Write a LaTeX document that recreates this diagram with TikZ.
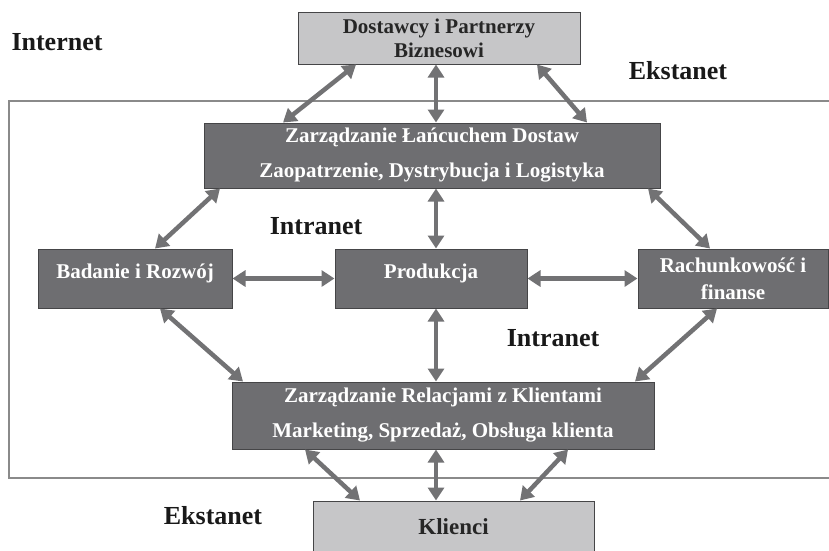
\documentclass[tikz,border=0pt]{standalone}
\usepackage{fontspec}
\setmainfont{Liberation Serif}
\usetikzlibrary{arrows.meta}
\definecolor{darkbox}{HTML}{6E6E71}
\definecolor{darkedge}{HTML}{454547}
\definecolor{lightbox}{HTML}{C6C6C8}
\definecolor{arrowgray}{HTML}{727274}
\definecolor{framegray}{HTML}{8A8A8A}
\tikzset{
  dbox/.style={draw=darkedge, line width=1pt, fill=darkbox, text=white, inner sep=0pt, align=center, font=\bfseries\fontsize{21}{27}\selectfont},
  lbox/.style={draw=darkedge, line width=1pt, fill=lightbox, text=black!85, inner sep=0pt, align=center, font=\bfseries\fontsize{21}{24}\selectfont},
  zone/.style={font=\bfseries\fontsize{26}{30}\selectfont, text=black!90, inner sep=0pt},
  biarrow/.style={draw=arrowgray, line width=4.5pt, {Triangle[length=13pt,width=16pt]}-{Triangle[length=13pt,width=16pt]}, shorten <=0pt, shorten >=0pt},
  framel/.style={draw=framegray, line width=1.4pt}
}
\begin{document}
\begin{tikzpicture}[x=1pt,y=-1pt]
\useasboundingbox (0,0) rectangle (829,550);
% frame
\draw[framel] (829,101) -- (9,101) -- (9,478) -- (829,478);
% boxes
\node[lbox, minimum width=282pt, minimum height=52pt] (dost) at (439,38) {Dostawcy i Partnerzy\\Biznesowi};
\node[dbox, minimum width=456pt, minimum height=65pt, font=\bfseries\fontsize{21}{35}\selectfont] (scm) at (432,155.5) {Zarządzanie Łańcuchem Dostaw\\Zaopatrzenie, Dystrybucja i Logistyka};
\node[dbox, minimum width=194pt, minimum height=59pt, text depth=14pt] (bad) at (135,278.5) {Badanie i Rozwój};
\node[dbox, minimum width=192pt, minimum height=59pt, text depth=14pt] (prod) at (431,278.5) {Produkcja};
\node[dbox, minimum width=190pt, minimum height=59pt] (rach) at (733,278.5) {Rachunkowość i\\finanse};
\node[dbox, minimum width=422pt, minimum height=67pt, font=\bfseries\fontsize{21}{35}\selectfont] (crm) at (443,415.5) {Zarządzanie Relacjami z Klientami\\Marketing, Sprzedaż, Obsługa klienta};
\node[lbox, minimum width=281pt, minimum height=52pt, font=\bfseries\fontsize{23}{26}\selectfont] (kli) at (453.5,527) {Klienci};
% zone labels
\node[zone] (inet) at (57,42) {Internet};
\node[zone] (ext1) at (678,71) {Ekstanet};
\node[zone] (intra1) at (316,226) {Intranet};
\node[zone] (intra2) at (553,338) {Intranet};
\node[zone] (ext2) at (213,516) {Ekstanet};
% arrows
\draw[biarrow] ([xshift=-83pt]dost.south) -- ([xshift=-149pt]scm.north);
\draw[biarrow] ([xshift=-3pt]dost.south) -- ([xshift=4pt]scm.north);
\draw[biarrow] ([xshift=98pt]dost.south) -- ([xshift=155pt]scm.north);
\draw[biarrow] ([xshift=-212pt]scm.south) -- ([xshift=20pt]bad.north);
\draw[biarrow] ([xshift=4pt]scm.south) -- ([xshift=5pt]prod.north);
\draw[biarrow] ([xshift=216pt]scm.south) -- ([xshift=-23pt]rach.north);
\draw[biarrow] (bad.east) -- (prod.west);
\draw[biarrow] (prod.east) -- (rach.west);
\draw[biarrow] ([xshift=25pt]bad.south) -- ([xshift=-200pt]crm.north);
\draw[biarrow] ([xshift=5pt]prod.south) -- ([xshift=-7pt]crm.north);
\draw[biarrow] ([xshift=-16pt]rach.south) -- ([xshift=192pt]crm.north);
\draw[biarrow] ([xshift=-138pt]crm.south) -- ([xshift=-93.5pt]kli.north);
\draw[biarrow] ([xshift=-7pt]crm.south) -- ([xshift=-17.5pt]kli.north);
\draw[biarrow] ([xshift=125pt]crm.south) -- ([xshift=66.5pt]kli.north);
\end{tikzpicture}
\end{document}
